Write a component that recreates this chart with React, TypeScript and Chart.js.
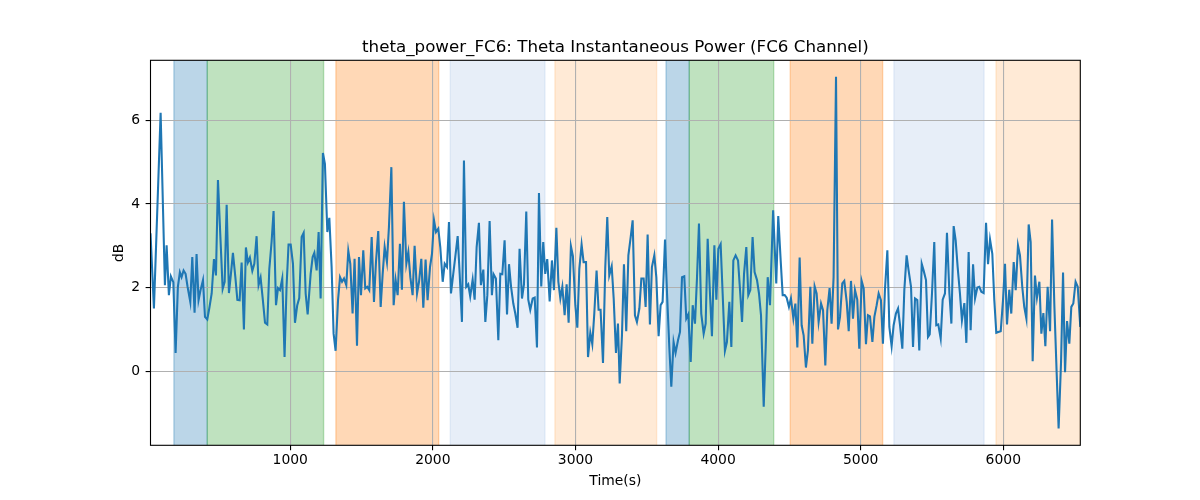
import { useEffect, useRef } from 'react';
import { Chart, registerables } from 'chart.js';

Chart.register(...registerables);

// Time (s) of each sample and the theta power in dB
const times = [
  20, 44, 91, 121, 133, 149, 163, 180, 196, 212, 226, 238, 252, 266, 280, 299, 313, 329, 343, 357,
  371, 388, 402, 418, 432, 449, 465, 479, 493, 509, 526, 540, 554, 570, 584, 598, 615, 629, 645, 659,
  675, 689, 703, 717, 734, 748, 764, 778, 792, 808, 823, 839, 853, 869, 883, 900, 914, 928, 944, 960,
  974, 988, 1003, 1019, 1033, 1049, 1063, 1080, 1094, 1108, 1122,
  1143, 1157, 1169, 1185, 1199, 1213, 1229, 1243, 1260, 1274, 1290, 1304, 1318, 1335, 1349, 1363, 1377, 1393, 1407, 1421,
  1437, 1451, 1468, 1482, 1496, 1512, 1526, 1540, 1554, 1571, 1587, 1601, 1617, 1634, 1648, 1662, 1678, 1692, 1709, 1725,
  1739, 1753, 1769, 1783, 1797, 1814, 1828, 1842, 1858, 1872, 1889, 1903, 1919, 1933, 1949, 1963, 1980, 1994, 2008, 2022,
  2038, 2052, 2069, 2083, 2099, 2113, 2127, 2143, 2157, 2174, 2188, 2204, 2218,
  2234, 2248, 2262, 2279, 2293, 2307, 2323, 2337, 2354, 2368, 2382, 2398, 2414, 2426, 2442, 2459, 2473, 2487, 2503, 2520,
  2534, 2548, 2564, 2578, 2594, 2608, 2625, 2639, 2655, 2669, 2683, 2700, 2714, 2730, 2744, 2760, 2774, 2788, 2802, 2819,
  2835, 2849, 2866, 2880, 2894, 2908, 2924, 2938, 2952, 2968, 2982, 2999, 3013, 3027, 3043, 3057, 3074, 3088, 3104, 3118,
  3132, 3148, 3162, 3176, 3193, 3209, 3223, 3237, 3254, 3268, 3284, 3298, 3310,
  3326, 3340, 3356, 3371, 3387, 3401, 3417, 3431, 3448, 3462, 3478, 3492, 3506, 3522, 3536, 3553, 3567, 3583, 3597, 3611,
  3628, 3642, 3658, 3672, 3688, 3702, 3719, 3733, 3747, 3763, 3777, 3791, 3808, 3822, 3838, 3852, 3866, 3882, 3899, 3913,
  3927, 3943, 3957, 3974, 3988, 4002, 4018, 4032, 4048, 4062, 4079, 4093, 4107, 4123, 4140, 4154, 4168, 4182, 4198, 4212,
  4226, 4242, 4256, 4273, 4287, 4301, 4320, 4334, 4348, 4364, 4386,
  4408, 4422, 4439, 4453, 4467, 4481, 4497, 4511, 4528, 4542, 4556, 4572, 4586, 4600, 4616, 4630, 4647, 4661, 4677, 4691,
  4705, 4722, 4736, 4752, 4766, 4782, 4796, 4810, 4827, 4841, 4855, 4871, 4885, 4902, 4916, 4932, 4946, 4960, 4976, 4990,
  5007, 5021, 5037, 5051, 5065, 5082, 5096, 5112, 5126, 5142, 5156, 5170, 5187, 5201, 5217, 5231, 5247, 5262, 5276, 5292,
  5306, 5322, 5336, 5353, 5367, 5381, 5397, 5411, 5428, 5442, 5458, 5472,
  5484, 5500, 5516, 5530, 5544, 5561, 5575, 5591, 5605, 5622, 5636, 5652, 5666, 5680, 5696, 5710, 5727, 5741, 5757, 5771,
  5788, 5802, 5818, 5832, 5846, 5862, 5879, 5893, 5907, 5923, 5937, 5951, 5965, 5982, 5998, 6012, 6026, 6042, 6056, 6073,
  6087, 6103, 6117, 6133, 6147, 6162, 6178, 6192, 6206, 6222, 6236, 6253, 6267, 6281, 6295, 6311, 6328, 6342, 6358, 6374,
  6388, 6405, 6419, 6433, 6447, 6463, 6477, 6491, 6507, 6522, 6540,
];

const thetaPower = [
  3.30, 1.50, 6.18, 2.06, 3.01, 1.82, 2.27, 2.13, 0.44, 2.02, 2.37, 2.25, 2.41, 2.33, 2.02, 1.66, 2.73, 1.40, 2.80, 1.70,
  1.94, 2.18, 1.30, 1.24, 1.50, 1.86, 2.68, 2.29, 4.57, 3.29, 1.97, 2.14, 3.98, 1.87, 2.33, 2.83, 2.25, 1.71, 1.70, 2.60,
  1.00, 2.96, 2.60, 2.72, 2.40, 2.57, 3.23, 2.06, 2.24, 1.70, 1.16, 1.12, 2.44, 3.09, 3.83, 1.58, 1.99, 1.94, 2.22, 0.34,
  2.02, 3.03, 3.03, 2.57, 1.16, 1.58, 1.75, 3.21, 3.31, 1.86, 1.36,
  2.33, 2.73, 2.83, 2.41, 3.33, 1.74, 5.22, 4.96, 3.33, 3.67, 2.49, 0.90, 0.49, 1.70, 2.25, 2.14, 2.22, 2.06, 2.88, 2.57,
  1.38, 2.69, 0.61, 2.73, 1.82, 2.89, 1.98, 2.02, 1.94, 3.21, 1.66, 2.61, 3.35, 1.54, 2.33, 2.97, 2.61, 3.45, 4.88, 1.58,
  2.18, 1.82, 3.05, 1.95, 4.05, 2.57, 2.85, 2.25, 1.82, 3.00, 1.86, 2.14, 2.69, 1.52, 2.67, 1.70, 2.49, 2.81, 3.61, 3.33,
  3.41, 2.97, 2.14, 2.57, 2.49, 3.57, 1.86, 2.33, 2.73, 3.23, 2.33, 1.18, 5.04,
  2.02, 2.08, 1.79, 2.19, 1.71, 2.97, 3.55, 2.06, 2.43, 1.18, 1.82, 3.59, 1.82, 2.32, 2.22, 0.74, 2.33, 2.32, 3.13, 1.36,
  2.56, 2.03, 1.62, 1.38, 1.04, 2.93, 1.74, 2.08, 3.82, 1.71, 1.47, 1.74, 1.76, 0.57, 4.26, 2.03, 3.09, 2.33, 2.68, 1.67,
  2.65, 1.94, 3.43, 2.14, 1.74, 2.02, 1.34, 2.08, 1.16, 2.99, 2.75, 1.58, 1.04, 2.45, 3.03, 2.61, 2.61, 0.34, 0.92, 0.65,
  1.38, 2.41, 1.47, 1.47, 0.20, 2.49, 3.69, 2.29, 2.51, 1.74, 0.44, 1.14, -0.29,
  0.86, 2.56, 0.96, 2.77, 3.20, 3.61, 1.34, 1.18, 1.50, 2.22, 2.22, 1.54, 3.27, 1.12, 2.49, 2.77, 2.25, 0.84, 1.58, 1.66,
  3.15, 1.86, 0.58, -0.37, 0.70, 0.44, 0.74, 0.94, 2.25, 2.27, 1.26, 1.36, 0.22, 1.58, 1.14, 2.22, 3.53, 1.38, 0.90, 1.14,
  3.17, 1.86, 0.84, 3.01, 1.71, 2.93, 3.04, 1.86, 0.49, 0.70, 1.66, 0.58, 2.65, 2.77, 2.65, 1.94, 1.18, 2.33, 2.97, 1.82,
  1.94, 3.21, 2.37, 2.18, 1.86, 1.34, -0.85, 0.58, 2.25, 1.58, 3.85,
  2.10, 3.71, 2.65, 1.82, 1.82, 1.76, 1.54, 1.74, 1.26, 1.62, 0.57, 2.72, 1.10, 0.86, 0.09, 0.50, 2.02, 0.66, 2.03, 1.86,
  1.18, 1.62, 1.46, 0.14, 1.46, 1.99, 1.14, 2.25, 7.04, 1.00, 1.30, 2.10, 2.16, 1.66, 0.96, 2.16, 1.26, 1.94, 1.71, 0.54,
  2.16, 1.98, 0.65, 1.34, 1.31, 0.70, 1.30, 1.58, 1.86, 1.70, 0.66, 1.94, 2.89, 1.06, 0.60, 1.10, 1.38, 1.50, 1.10, 0.54,
  1.94, 2.77, 2.41, 2.02, 0.58, 1.74, 1.70, 0.50, 2.57, 2.40, 2.18, 0.82,
  0.88, 1.86, 3.09, 1.10, 1.12, 0.78, 1.71, 1.86, 3.31, 1.87, 1.14, 3.47, 3.13, 2.49, 1.86, 1.22, 1.63, 0.68, 2.85, 0.98,
  2.56, 1.74, 2.00, 2.02, 1.90, 1.87, 3.55, 2.56, 3.15, 2.81, 1.70, 0.92, 0.94, 0.96, 1.70, 2.57, 1.12, 1.95, 1.38, 2.61,
  1.94, 3.01, 2.77, 2.02, 1.54, 1.26, 3.51, 3.09, 0.24, 2.29, 1.76, 2.14, 0.90, 1.39, 0.60, 2.02, 0.96, 3.63, 1.58, -0.02,
  -1.37, 0.22, 2.36, -0.02, 1.20, 0.66, 1.54, 1.62, 2.14, 2.02, 1.06,
];

// Shaded segments (start / end time and segment kind)
const segStart = [184, 418, 1320, 2122, 2856, 3635, 3798, 4506, 5233, 5949];
const segEnd = [418, 1234, 2041, 2786, 3569, 3798, 4390, 5154, 5865, 6540];
const segKind = ['a', 'b', 'c', 'd', 'e', 'a', 'b', 'c', 'd', 'e'];

const xTicks = [1000, 2000, 3000, 4000, 5000, 6000];
const yTicks = [0, 2, 4, 6];

const KIND_COLOR: Record<string, string> = {
  a: 'rgba(31,119,180,0.3)',
  b: 'rgba(44,160,44,0.3)',
  c: 'rgba(255,127,14,0.3)',
  d: 'rgba(174,199,232,0.3)',
  e: 'rgba(255,187,120,0.3)',
};

const FONT = 'DejaVu Sans';
const TITLE = 'theta_power_FC6: Theta Instantaneous Power (FC6 Channel)';

const spanPlugin = {
  id: 'spans',
  beforeDraw(chart: any) {
    const { ctx, chartArea, scales } = chart;
    const x = scales.x;
    ctx.save();
    ctx.beginPath();
    ctx.rect(chartArea.left, chartArea.top, chartArea.right - chartArea.left, chartArea.bottom - chartArea.top);
    ctx.clip();
    segStart.forEach((s, i) => {
      const x0 = x.getPixelForValue(s);
      const x1 = x.getPixelForValue(segEnd[i]);
      const col = KIND_COLOR[segKind[i]];
      ctx.fillStyle = col;
      ctx.fillRect(x0, chartArea.top, x1 - x0, chartArea.bottom - chartArea.top);
      ctx.strokeStyle = col;
      ctx.lineWidth = 1.4;
      ctx.beginPath();
      ctx.moveTo(x0, chartArea.top);
      ctx.lineTo(x0, chartArea.bottom);
      ctx.moveTo(x1, chartArea.top);
      ctx.lineTo(x1, chartArea.bottom);
      ctx.stroke();
    });
    ctx.restore();
  },
  afterDraw(chart: any) {
    const { ctx, chartArea } = chart;
    ctx.save();
    ctx.strokeStyle = '#000';
    ctx.lineWidth = 1.1;
    ctx.strokeRect(chartArea.left, chartArea.top, chartArea.right - chartArea.left, chartArea.bottom - chartArea.top);
    ctx.fillStyle = '#000';
    ctx.font = `16.7px '${FONT}'`;
    ctx.textAlign = 'center';
    ctx.textBaseline = 'alphabetic';
    ctx.fillText(TITLE, (chartArea.left + chartArea.right) / 2, chartArea.top - 8.3);
    ctx.restore();
  },
};

export default function App() {
  const canvasRef = useRef<HTMLCanvasElement | null>(null);
  const chartRef = useRef<Chart | null>(null);

  useEffect(() => {
    if (!canvasRef.current) return;
    if (chartRef.current) chartRef.current.destroy();

    const tick = { color: '#000', font: { family: FONT, size: 13.9 } };
    const grid = { color: '#b0b0b0', lineWidth: 1.1, tickLength: 4.9, tickColor: '#000', tickWidth: 1.1 };

    chartRef.current = new Chart(canvasRef.current, {
      type: 'line',
      data: {
        datasets: [
          {
            label: 'theta_power_FC6',
            data: times.map((t, i) => ({ x: t, y: thetaPower[i] })),
            borderColor: '#1f77b4',
            borderWidth: 2.08,
            pointRadius: 0,
            tension: 0,
            fill: false,
          },
        ],
      },
      options: {
        responsive: false,
        animation: false,
        layout: { padding: { top: 60.3, right: 119.7, left: 0, bottom: 0 } },
        scales: {
          x: {
            type: 'linear',
            min: 20,
            max: 6540,
            afterFit: (s: any) => {
              s.height = 54.7;
            },
            afterBuildTicks: (s: any) => {
              s.ticks = xTicks.map((v) => ({ value: v }));
            },
            ticks: {
              ...tick,
              autoSkip: false,
              maxRotation: 0,
              padding: 2,
              callback: (v: any) => String(v),
            },
            grid,
            border: { display: false },
            title: { display: true, text: 'Time(s)', color: '#000', font: { family: FONT, size: 13.9 }, padding: { top: 0, bottom: 10.7 } },
          },
          y: {
            type: 'linear',
            min: -1.77,
            max: 7.435,
            afterFit: (s: any) => {
              s.width = 150.5;
            },
            afterBuildTicks: (s: any) => {
              s.ticks = yTicks.map((v) => ({ value: v }));
            },
            ticks: { ...tick, autoSkip: false, padding: 5.5, callback: (v: any) => String(v) },
            grid,
            border: { display: false },
            title: { display: true, text: 'dB', color: '#000', font: { family: FONT, size: 13.9 }, padding: { top: 111.4, bottom: 0 } },
          },
        },
        plugins: {
          legend: { display: false },
          tooltip: { enabled: false },
        },
      },
      plugins: [spanPlugin],
    });

    return () => {
      if (chartRef.current) {
        chartRef.current.destroy();
        chartRef.current = null;
      }
    };
  }, []);

  return (
    <div style={{ position: 'fixed', left: 0, top: 0, width: 1200, height: 500, background: '#fff' }}>
      <canvas ref={canvasRef} width={1200} height={500} aria-label="Theta instantaneous power, FC6 channel" />
    </div>
  );
}
